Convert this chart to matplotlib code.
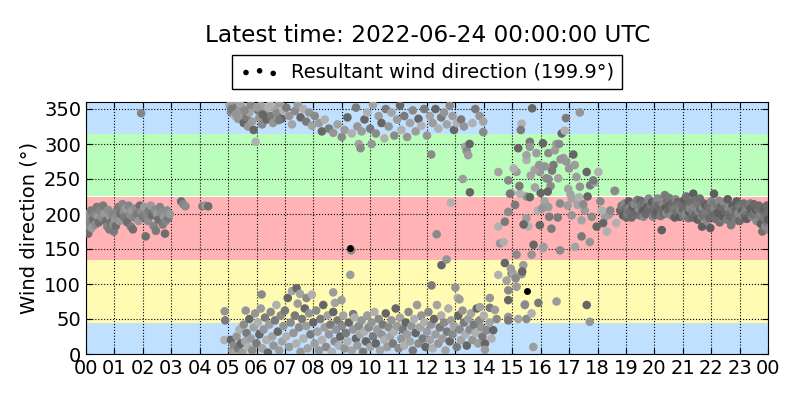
import numpy as np
import matplotlib
matplotlib.use('Agg')
import matplotlib.pyplot as plt

# wind direction samples (hour of day, degrees)
night_hours = [0.00, 0.02, 0.05, 0.08, 0.10, 0.12, 0.18, 0.20, 0.25, 0.30, 0.33, 0.38, 0.42, 0.45,
               0.50, 0.55, 0.60, 0.65, 0.70, 0.75, 0.78, 0.82, 0.85, 0.88, 0.92, 0.95, 0.98, 1.02,
               1.05, 1.08, 1.10, 1.15, 1.18, 1.22, 1.28, 1.32, 1.35, 1.40, 1.45, 1.50, 1.55, 1.58,
               1.62, 1.65, 1.70, 1.75, 1.80, 1.85, 1.90, 1.94, 1.95, 2.00, 2.05, 2.10, 2.12, 2.18,
               2.22, 2.28, 2.32, 2.38, 2.42, 2.46, 2.50, 2.55, 2.60, 2.65, 2.70, 2.74, 2.78, 2.80,
               2.85, 2.90, 2.95, 3.35, 3.42, 3.50, 4.10, 4.20, 4.30]
night_dirs = [178, 190, 200, 172, 185, 195, 205, 180, 192, 200, 185, 210, 197, 188,
              205, 195, 212, 200, 190, 182, 206, 178, 195, 188, 200, 185, 175, 192,
              183, 205, 196, 210, 190, 200, 214, 203, 195, 208, 188, 212, 199, 182,
              205, 178, 195, 208, 200, 190, 212, 344, 203, 196, 210, 168, 200, 190,
              205, 212, 198, 183, 206, 176, 200, 192, 210, 202, 185, 196, 172, 190,
              205, 194, 200, 218, 214, 211, 211, 212, 211]

north_hours = [5.05, 5.10, 5.15, 5.20, 5.25, 5.30, 5.35, 5.40, 5.45, 5.50, 5.55, 5.60, 5.65, 5.70,
               5.75, 5.80, 5.85, 5.90, 5.97, 6.05, 6.10, 6.15, 6.20, 6.28, 6.35, 6.42, 6.50, 6.58,
               6.65, 6.72, 6.80, 6.88, 6.95, 7.05, 7.15, 7.25, 7.35, 7.45, 7.55, 7.65, 7.75, 7.85,
               7.95, 8.05, 8.20, 8.30, 8.40, 8.55, 8.70, 8.85, 9.00, 9.10, 9.20, 9.35, 9.50, 9.55,
               9.60, 9.66, 9.70, 9.80, 9.90, 10.00, 10.05, 10.10, 10.20, 10.30, 10.40, 10.50, 10.55,
               10.65, 10.75, 10.85, 10.95, 11.05, 11.10, 11.20, 11.30, 11.40, 11.50, 11.60, 11.70,
               11.80, 11.90, 12.00, 12.10, 12.15, 12.20, 12.30, 12.40, 12.50, 12.60, 12.70, 12.80,
               12.90, 12.95, 13.05, 13.20, 13.30, 13.35, 13.40, 13.45, 13.50, 13.60, 13.70, 13.85,
               13.98, 13.98, 13.26, 13.51, 12.84, 5.12, 5.28, 5.42, 5.58, 6.02, 6.22, 6.48, 6.78]
north_dirs = [355, 345, 358, 350, 340, 352, 336, 347, 355, 342, 330, 350, 338, 325,
              345, 356, 332, 320, 303, 348, 338, 355, 328, 345, 335, 352, 340, 330,
              350, 344, 358, 336, 348, 352, 340, 328, 347, 356, 338, 350, 332, 345,
              326, 340, 330, 318, 335, 322, 316, 328, 310, 320, 338, 315, 352, 325,
              300, 294, 318, 335, 345, 322, 300, 356, 315, 340, 330, 308, 350,
              325, 345, 312, 335, 355, 320, 340, 310, 330, 348, 318, 336,
              326, 350, 312, 340, 285, 330, 350, 322, 338, 345, 328, 355,
              340, 320, 330, 335, 325, 296, 290, 284, 300, 330, 350, 340,
              332, 317, 250, 231, 216, 350, 343, 357, 348, 352, 342, 356, 334]

south_hours = [4.88, 4.90, 4.87, 5.10, 5.15, 5.20, 5.25, 5.30, 5.35, 5.40, 5.45, 5.50, 5.55, 5.60,
               5.62, 5.65, 5.70, 5.75, 5.80, 5.85, 5.90, 5.95, 6.00, 6.05, 6.10, 6.15, 6.18, 6.20,
               6.25, 6.30, 6.35, 6.40, 6.45, 6.50, 6.55, 6.60, 6.65, 6.70, 6.75, 6.80, 6.85, 6.90,
               6.95, 7.00, 7.05, 7.10, 7.15, 7.20, 7.25, 7.30, 7.35, 7.40, 7.41, 7.45, 7.50, 7.53,
               7.55, 7.60, 7.65, 7.70, 7.75, 7.76, 7.80, 7.85, 7.90, 7.95, 8.00, 8.05, 8.10, 8.15,
               8.20, 8.25, 8.30, 8.35, 8.40, 8.45, 8.50, 8.55, 8.60, 8.65, 8.70, 8.70, 8.75, 8.76,
               8.80, 8.85, 8.90, 8.95, 8.99, 9.00, 9.05, 9.10, 9.15, 9.20, 9.25, 9.30, 9.33, 9.35,
               9.40, 9.40, 9.45, 9.50, 9.55, 9.60, 9.65, 9.70, 9.75, 9.80, 9.85, 9.90, 9.95, 10.00,
               10.05, 10.10, 10.15, 10.20, 10.25, 10.30, 10.35, 10.40, 10.45, 10.50, 10.55, 10.60,
               10.65, 10.70, 10.75, 10.80, 10.85, 10.90, 10.95, 11.00, 11.05, 11.10, 11.15, 11.20,
               11.25, 11.30, 11.35, 11.40, 11.45, 11.50, 11.55, 11.60, 11.65, 11.70, 11.75, 11.80,
               11.85, 11.90, 11.95, 12.00, 12.05, 12.10, 12.15, 12.16, 12.20, 12.25, 12.30, 12.34,
               12.35, 12.40, 12.45, 12.50, 12.51, 12.55, 12.60, 12.65, 12.69, 12.70, 12.75, 12.80,
               12.85, 12.90, 12.95, 13.00, 13.05, 13.08, 13.10, 13.14, 13.15, 13.20, 13.25, 13.30,
               13.35, 13.40, 13.45, 13.50, 13.55, 13.60, 13.65, 13.70, 13.75, 13.80, 13.85, 13.86,
               13.90, 13.95, 14.00, 14.04, 14.04, 14.10, 14.20, 14.21, 14.21, 14.27, 14.33, 14.39,
               14.45]
south_dirs = [61, 48, 20, 20, 5, 12, 3, 25, 8, 35, 15, 2, 42, 18,
              62, 30, 10, 50, 22, 5, 38, 58, 15, 45, 28, 65, 85, 8,
              35, 52, 20, 2, 42, 60, 25, 12, 48, 70, 32, 5, 55, 18,
              40, 62, 25, 80, 10, 45, 90, 30, 55, 15, 94, 72, 38, 86,
              3, 50, 22, 65, 40, 80, 8, 58, 28, 85, 45, 15, 62, 32,
              5, 50, 20, 70, 38, 10, 55, 28, 42, 3, 60, 88, 18, 73,
              35, 48, 12, 25, 77, 40, 55, 8, 30, 18, 45, 113, 148, 5,
              35, 57, 52, 22, 12, 40, 28, 48, 3, 32, 18, 55, 38, 10,
              45, 25, 60, 15, 35, 50, 5, 28, 42, 20, 58, 10,
              38, 25, 48, 15, 32, 65, 40, 8, 52, 22, 35, 12,
              45, 28, 60, 18, 40, 5, 50, 30, 70, 15, 38, 55,
              22, 45, 10, 32, 60, 20, 42, 98, 8, 50, 28, 171,
              70, 15, 38, 55, 127, 22, 45, 5, 135, 32, 65, 18,
              48, 28, 40, 95, 10, 80, 55, 78, 35, 20, 62, 45,
              28, 12, 50, 35, 58, 20, 42, 30, 65, 15, 48, 67,
              38, 25, 55, 15, 6, 34, 45, 80, 66, 22, 34, 63,
              50]

shift_hours = [14.51, 14.86, 15.15, 15.21, 15.50, 15.62, 15.97, 15.79, 16.20, 15.85, 16.08, 14.98,
               15.10, 15.50, 16.14, 14.86, 15.50, 15.97, 14.51, 14.74, 15.68, 16.08, 15.15, 15.39,
               14.74, 14.51, 14.98, 15.33, 14.80, 14.86, 15.15, 14.86, 15.45, 15.92, 14.86, 15.21,
               15.50, 15.74, 15.70, 15.33, 15.30, 15.62, 15.50, 16.27, 16.50, 16.74, 16.85, 16.89,
               17.38, 16.62, 16.27, 17.26, 17.62, 18.03, 17.74, 17.38, 16.97, 16.68, 16.27, 15.62,
               15.27, 14.92, 17.09, 17.44, 17.80, 18.27, 17.97, 18.33, 17.44, 17.73, 17.21, 16.68,
               16.10, 15.75, 15.56, 16.38, 14.57, 15.03, 15.44, 16.56, 17.62, 15.68, 14.86, 17.73,
               18.62, 18.60, 18.40, 18.20, 18.66, 16.45, 16.90, 17.10, 16.35, 17.55, 16.00, 15.90,
               16.60, 17.00, 17.30, 18.10, 16.80, 15.40, 14.70, 15.25, 16.15, 17.90, 18.45, 16.55,
               17.15, 15.05, 16.40, 16.70, 17.05, 17.50, 16.95, 16.25, 17.35, 17.85, 16.05, 15.80,
               16.65, 17.20, 17.65, 18.15, 16.30, 15.95, 15.65, 15.12, 14.95, 15.35]
shift_dirs = [260, 248, 260, 294, 277, 303, 260, 263, 251, 287, 301, 230,
              213, 225, 218, 203, 194, 184, 182, 189, 142, 151, 142, 127,
              130, 113, 115, 114, 105, 91, 96, 77, 71, 73, 53, 50,
              50, 10, 351, 329, 320, 296, 284, 287, 291, 315, 319, 337,
              345, 251, 250, 253, 260, 260, 241, 239, 236, 215, 210, 224,
              229, 229, 198, 191, 196, 196, 182, 175, 168, 160, 153, 148,
              153, 156, 182, 179, 158, 115, 70, 75, 70, 58, 48, 46,
              233, 233, 199, 187, 187, 270, 275, 222, 240, 205, 230, 205,
              195, 265, 213, 218, 280, 185, 160, 240, 268, 245, 205, 300,
              285, 265, 262, 278, 228, 214, 212, 232, 224, 248, 208, 238,
              300, 270, 225, 205, 196, 270, 255, 108, 122, 118]

evening_hours = [18.80, 18.85, 18.90, 18.95, 19.00, 19.02, 19.05, 19.10, 19.12, 19.15, 19.20, 19.22,
                 19.25, 19.30, 19.32, 19.35, 19.40, 19.42, 19.45, 19.50, 19.52, 19.55, 19.60, 19.62,
                 19.65, 19.70, 19.72, 19.75, 19.80, 19.82, 19.85, 19.90, 19.92, 19.95, 20.00, 20.02,
                 20.05, 20.10, 20.12, 20.15, 20.20, 20.22, 20.26, 20.30, 20.32, 20.35, 20.37, 20.40,
                 20.42, 20.45, 20.50, 20.52, 20.55, 20.60, 20.62, 20.65, 20.70, 20.72, 20.75, 20.80,
                 20.82, 20.85, 20.90, 20.92, 20.95, 21.00, 21.02, 21.05, 21.10, 21.12, 21.15, 21.20,
                 21.22, 21.25, 21.30, 21.32, 21.35, 21.37, 21.40, 21.42, 21.45, 21.50, 21.52, 21.55,
                 21.60, 21.62, 21.65, 21.68, 21.70, 21.72, 21.75, 21.80, 21.82, 21.85, 21.90, 21.92,
                 21.95, 21.97, 22.00, 22.02, 22.05, 22.08, 22.10, 22.12, 22.15, 22.18, 22.20, 22.25,
                 22.28, 22.30, 22.35, 22.38, 22.40, 22.45, 22.48, 22.50, 22.55, 22.58, 22.60, 22.65,
                 22.68, 22.70, 22.75, 22.78, 22.80, 22.85, 22.88, 22.90, 22.95, 22.98, 23.00, 23.05,
                 23.08, 23.10, 23.15, 23.18, 23.20, 23.25, 23.28, 23.30, 23.35, 23.38, 23.40, 23.45,
                 23.48, 23.50, 23.55, 23.58, 23.60, 23.65, 23.68, 23.70, 23.75, 23.78, 23.80, 23.82,
                 23.85, 23.88, 23.90, 23.95, 23.96, 23.98, 24.00, 24.00]
evening_dirs = [205, 212, 198, 215, 208, 195, 200, 218, 208, 204, 195, 213,
                210, 214, 199, 202, 220, 206, 207, 198, 219, 212, 205, 196,
                216, 200, 214, 209, 222, 207, 204, 213, 217, 196, 210, 199,
                218, 203, 222, 212, 207, 197, 177, 215, 206, 200, 227, 209,
                201, 219, 205, 223, 212, 198, 210, 216, 207, 195, 221, 202,
                217, 211, 196, 205, 214, 206, 197, 220, 200, 225, 212, 194,
                203, 208, 217, 195, 203, 229, 210, 220, 199, 214, 192, 205,
                222, 207, 196, 182, 209, 200, 215, 201, 212, 190, 211, 195,
                204, 180, 218, 205, 198, 215, 229, 208, 193, 201, 213, 202,
                219, 188, 210, 193, 197, 216, 207, 204, 192, 221, 209, 200,
                196, 184, 212, 205, 196, 206, 191, 218, 201, 212, 190, 210,
                204, 198, 215, 197, 205, 193, 209, 212, 200, 215, 208, 196,
                199, 214, 203, 206, 190, 207, 212, 198, 186, 200, 175, 204,
                195, 208, 182, 200, 212, 188, 192, 178]

# hourly resultant wind direction
result_hours = [9.30, 15.53]
result_dirs = [151, 90]
latest_resultant = 199.9

# colour bands for the compass sectors
band_edges = [0, 45, 135, 225, 315, 360]
band_colors = ['#bfe0ff', '#fffbb3', '#ffb3b5', '#bbfdbb', '#bfe0ff']

greys_night = ['#8c8c8c', '#7a7a7a', '#999999', '#6e6e6e', '#858585']
greys_day = ['#a3a3a3', '#8a8a8a', '#9c9c9c', '#666666', '#b0b0b0', '#7a7a7a', '#959595']
greys_evening = ['#6a6a6a', '#7a7a7a', '#5e5e5e', '#888888', '#707070']

fig = plt.figure(figsize=(8, 4), dpi=100)
ax = fig.add_axes([0.1075, 0.115, 0.8525, 0.63])

for lo, hi, c in zip(band_edges[:-1], band_edges[1:], band_colors):
    ax.axhspan(lo, hi, color=c, lw=0, zorder=0)

def cols(pal, n):
    return [pal[i % len(pal)] for i in range(n)]

ax.scatter(night_hours, night_dirs, s=38, c=cols(greys_night, len(night_hours)), lw=0, zorder=3)
ax.scatter(north_hours, north_dirs, s=38, c=cols(greys_day, len(north_hours)), lw=0, zorder=3)
ax.scatter(south_hours, south_dirs, s=38, c=cols(greys_day[::-1], len(south_hours)), lw=0, zorder=3)
ax.scatter(shift_hours, shift_dirs, s=38, c=cols(greys_day, len(shift_hours)), lw=0, zorder=3)
ax.scatter(evening_hours, evening_dirs, s=38, c=cols(greys_evening, len(evening_hours)), lw=0, zorder=3)
ax.scatter(result_hours, result_dirs, s=25, c='k', lw=0, zorder=4,
           label='Resultant wind direction (%.1f°)' % latest_resultant)

ax.set_xlim(0, 24)
ax.set_ylim(0, 360)
ax.set_xticks(np.arange(0, 25, 1))
ax.set_xticklabels(['%02d' % (h % 24) for h in range(25)])
ax.set_yticks(np.arange(0, 351, 50))
ax.tick_params(direction='in', top=True, right=True, labelsize=14, length=4)
ax.set_axisbelow('line')
ax.grid(True, color='k', linestyle=':', linewidth=0.8)
ax.set_ylabel('Wind direction (°)', fontsize=14)

leg = ax.legend(loc='lower center', bbox_to_anchor=(0.5, 1.05), scatterpoints=3,
                markerscale=0.8, fontsize=14, fancybox=False, edgecolor='k',
                framealpha=1, borderaxespad=0.0, handletextpad=0.6)
leg.get_frame().set_linewidth(1.0)

fig.text(0.534, 0.912, 'Latest time: 2022-06-24 00:00:00 UTC', ha='center', va='center', fontsize=16.7)

fig.savefig('out.png', dpi=100)
